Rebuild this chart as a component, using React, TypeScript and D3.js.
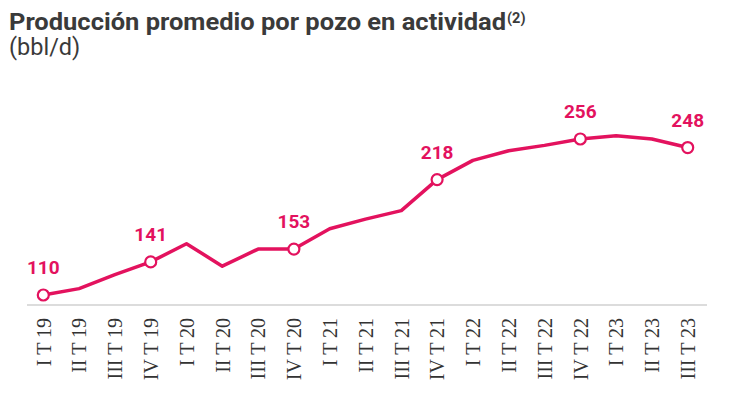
import React from 'react';
import * as d3 from 'd3';

const quarters = [
  'I T 19', 'II T 19', 'III T 19', 'IV T 19',
  'I T 20', 'II T 20', 'III T 20', 'IV T 20',
  'I T 21', 'II T 21', 'III T 21', 'IV T 21',
  'I T 22', 'II T 22', 'III T 22', 'IV T 22',
  'I T 23', 'II T 23', 'III T 23',
];
const produccion = [110, 116, 129, 141, 158, 137, 153, 153, 172, 181, 189, 218, 236, 245, 250, 256, 259, 256, 248];
const labeledIdx = [0, 3, 7, 11, 15, 18];

const W = 730;
const H = 393;
const PINK = '#E3125E';
const SANS = "Roboto, 'Noto Sans', sans-serif";

const App: React.FC = () => {
  const x = d3.scalePoint<string>()
    .domain(quarters)
    .range([43.3, 687.7]);

  const y = d3.scaleLinear()
    .domain([100, 260])
    .range([305.7, 134.7]);

  const line = d3.line<number>()
    .x((_, i) => x(quarters[i]) || 0)
    .y(d => y(d));

  return (
    <div style={{ position: 'absolute', left: 0, top: 0 }}>
      <svg width={W} height={H} viewBox={`0 0 ${W} ${H}`} style={{ display: 'block', background: '#fff' }}>
        {/* title */}
        <text x={9} y={29.5} fontFamily={SANS} fontWeight={700} fontSize={24} fill="#3a3a3a"
          textLength={497} lengthAdjust="spacingAndGlyphs">
          Producción promedio por pozo en actividad
        </text>
        <text x={507} y={23} fontFamily={SANS} fontWeight={700} fontSize={14.5} fill="#3a3a3a">(2)</text>
        <text x={9} y={55} fontFamily={SANS} fontSize={23.5} fill="#3a3a3a">
          (bbl/d)
        </text>

        {/* baseline */}
        <line x1={27} x2={707} y1={305} y2={305} stroke="#dcdcdc" strokeWidth={2} />

        {/* x labels */}
        {quarters.map(q => (
          <text
            key={q}
            transform={`translate(${x(q)},318) rotate(-90)`}
            textAnchor="end"
            dy="0.36em"
            fontFamily="'Liberation Serif', 'Times New Roman', serif"
            fontSize={20}
            fill="#333"
          >
            {q}
          </text>
        ))}

        {/* series */}
        <path d={line(produccion) || ''} fill="none" stroke={PINK} strokeWidth={3.5} strokeLinejoin="round" strokeLinecap="round" />

        {labeledIdx.map(i => (
          <g key={i}>
            <circle cx={x(quarters[i])} cy={y(produccion[i])} r={5.5} fill="#fff" stroke={PINK} strokeWidth={2.2} />
            <text
              x={x(quarters[i])}
              y={y(produccion[i]) - 21}
              textAnchor="middle"
              fontFamily={SANS}
              fontWeight={700}
              fontSize={19}
              fill={PINK}
            >
              {produccion[i]}
            </text>
          </g>
        ))}
      </svg>
    </div>
  );
};

export default App;
